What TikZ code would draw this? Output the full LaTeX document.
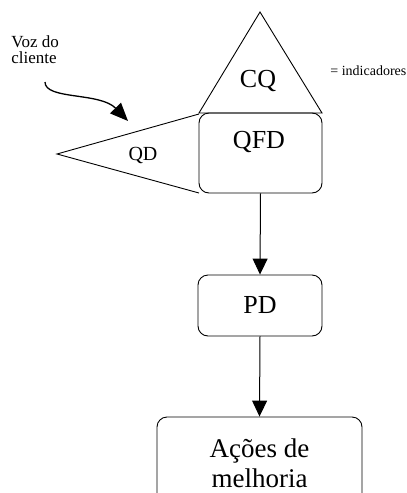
\documentclass[tikz,border=0pt]{standalone}
\usepackage{fontspec}
\setmainfont{Liberation Serif}
\usetikzlibrary{arrows.meta}

\begin{document}
\begin{tikzpicture}[x=1pt,y=-1pt,line width=0.9pt]
\useasboundingbox (0,0) rectangle (407,493);
\clip (0,0) rectangle (407,493);

\begin{scope} % Triangles CQ and QD
  \draw (199,113) -- (260,12) -- (322,113) -- cycle;
  \draw (199,114) -- (57,154) -- (199,193);
  \node (cq) at (258,81) {\fontsize{26}{28}\selectfont CQ};
  \node (qd) at (143,155) {\fontsize{20}{22}\selectfont QD};
  \node (ind) at (330,75) [anchor=base west,inner sep=0pt]
    {\fontsize{14}{16}\selectfont = indicadores};
\end{scope}

\begin{scope} % Boxes
  [box/.style={draw,rounded corners=10pt,inner sep=0pt},
   boxtext/.style={font=\fontsize{26}{28}\selectfont}]
  \node (qfd) at (260.5,153) [box,minimum width=123pt,minimum height=80pt] {};
  \node (qfdtext) at (259,142) [boxtext] {QFD};
  \node (pd) at (260,305.5) [box,minimum width=124pt,minimum height=61pt,
    boxtext] {PD};
  \node (acoes) at (259.5,463.5) [box,minimum width=205pt,minimum height=93pt,
    align=center,font=\fontsize{27}{30}\selectfont] {Ações de\\melhoria};
\end{scope}

\begin{scope}[-{Triangle[length=16pt,width=15pt]},line width=1pt] % Flow arrows
  \draw (qfd.south) -- (pd.north);
  \draw (pd.south) -- (acoes.north);
\end{scope}

\begin{scope} % Voz do cliente
  \node (voz) at (11,63.5) [anchor=base west,inner sep=0pt,align=left,
    font=\fontsize{17}{16.5}\selectfont] {Voz do\\cliente};
  \coordinate (vozstart) at (45,82);
  \coordinate (vozend) at (128,121);
  \draw[-{Triangle[length=18pt,width=15pt]},line width=1.3pt]
    (vozstart) .. controls (45,100) and (100,92) .. (vozend);
\end{scope}

\end{tikzpicture}
\end{document}
